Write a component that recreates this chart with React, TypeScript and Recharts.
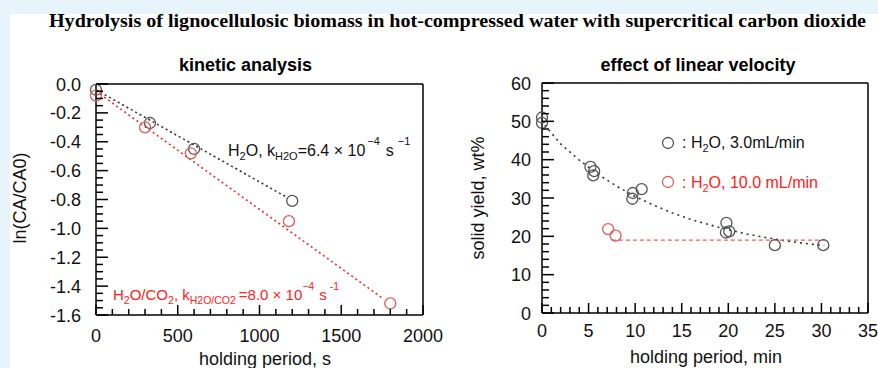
import React from "react";
import { Scatter, ScatterChart, XAxis, YAxis } from "recharts";

const FONT = "'Liberation Sans', Arial, sans-serif";

// kinetic analysis (left)
const kineticMajorX = [0, 500, 1000, 1500, 2000];
const kineticTicksX = [0, 100, 200, 300, 400, 500, 600, 700, 800, 900, 1000, 1100, 1200, 1300, 1400, 1500, 1600, 1700, 1800, 1900, 2000];
const kineticMajorY = [0, -0.2, -0.4, -0.6, -0.8, -1.0, -1.2, -1.4, -1.6];
const kineticTicksY = [
  0, -0.05, -0.1, -0.15, -0.2, -0.25, -0.3, -0.35, -0.4, -0.45, -0.5, -0.55, -0.6, -0.65, -0.7, -0.75, -0.8,
  -0.85, -0.9, -0.95, -1.0, -1.05, -1.1, -1.15, -1.2, -1.25, -1.3, -1.35, -1.4, -1.45, -1.5, -1.55, -1.6,
];

const h2oTime = [0, 330, 600, 1200];
const h2oLn = [-0.04, -0.27, -0.45, -0.81];
const co2Time = [0, 300, 580, 1180, 1800];
const co2Ln = [-0.08, -0.3, -0.48, -0.95, -1.52];
const h2oFitTime = [0, 1160];
const h2oFitLn = [-0.04, -0.78];
const co2FitTime = [0, 1760];
const co2FitLn = [-0.05, -1.49];

// effect of linear velocity (right)
const velMajorX = [0, 5, 10, 15, 20, 25, 30, 35];
const velTicksX = [0, 1, 2, 3, 4, 5, 6, 7, 8, 9, 10, 11, 12, 13, 14, 15, 16, 17, 18, 19, 20, 21, 22, 23, 24, 25, 26, 27, 28, 29, 30, 31, 32, 33, 34, 35];
const velMajorY = [0, 10, 20, 30, 40, 50, 60];
const velTicksY = [0, 2, 4, 6, 8, 10, 12, 14, 16, 18, 20, 22, 24, 26, 28, 30, 32, 34, 36, 38, 40, 42, 44, 46, 48, 50, 52, 54, 56, 58, 60];

const lowFlowTime = [0, 0, 5.2, 5.5, 5.6, 9.7, 9.75, 10.7, 19.8, 19.75, 20.1, 25, 30.2];
const lowFlowYield = [51.0, 49.6, 38.1, 35.9, 37.0, 29.8, 31.3, 32.3, 23.5, 21.0, 21.3, 17.7, 17.7];
const highFlowTime = [7.1, 7.9];
const highFlowYield = [21.9, 20.2];
const lowFitTime = [0.3, 2, 4, 6, 8, 10, 12, 14, 16, 18, 20, 22, 24, 26, 28, 30.3];
const lowFitYield = [49, 44.1, 39.9, 36.2, 33.1, 30.4, 28.1, 26.1, 24.4, 23.0, 21.7, 20.6, 19.7, 18.9, 18.2, 17.6];
const highFitTime = [7.5, 30.4];
const highFitYield = [19.0, 19.0];

const pts = (xs: number[], ys: number[]) => xs.map((x, i) => ({ x, y: ys[i] }));

type Side = "bottom" | "top" | "left" | "right";

function makeTick(side: Side, majors: number[], major: number, minor: number, gap = 0, fmt?: (v: number) => string) {
  return function Tick(props: any) {
    const { x, y, payload } = props;
    const v = Number(payload.value);
    const isMajor = majors.some((m) => Math.abs(m - v) < 1e-9);
    const len = isMajor ? major : minor;
    let x2 = x;
    let y2 = y;
    if (side === "bottom") y2 = y - len;
    if (side === "top") y2 = y + len;
    if (side === "left") x2 = x + len;
    if (side === "right") x2 = x - len;
    const label = fmt && isMajor ? fmt(v) : null;
    return (
      <g>
        <line x1={x} y1={y} x2={x2} y2={y2} stroke="#000" strokeWidth={1.5} />
        {label !== null && side === "bottom" && (
          <text x={x} y={y + gap} textAnchor="middle" fontSize={18} fontFamily={FONT} fill="#111">
            {label}
          </text>
        )}
        {label !== null && side === "left" && (
          <text x={x - gap} y={y + 6.5} textAnchor="end" fontSize={18} fontFamily={FONT} fill="#111">
            {label}
          </text>
        )}
      </g>
    );
  };
}

const ring = (stroke: string) => (p: any) => <circle cx={p.cx} cy={p.cy} r={5.5} fill="none" stroke={stroke} strokeWidth={1.3} />;
const nothing = () => <g />;

const axisLine = { stroke: "#000", strokeWidth: 1.5 };

function KineticChart() {
  return (
    <ScatterChart width={470} height={368} margin={{ top: 0, right: 0, bottom: 0, left: 0 }} style={{ overflow: "visible" }}>
      <XAxis dataKey="x" type="number" domain={[0, 2000]} ticks={kineticTicksX} interval={0} height={53} tickSize={0} tickMargin={0} tickLine={false} axisLine={axisLine} tick={makeTick("bottom", kineticMajorX, 10, 6, 26.5, (v) => String(v))} />
      <XAxis xAxisId="top" orientation="top" type="number" domain={[0, 2000]} ticks={kineticTicksX} interval={0} height={84} tickSize={0} tickMargin={0} tickLine={false} axisLine={axisLine} tick={makeTick("top", kineticMajorX, 10, 6)} />
      <YAxis dataKey="y" type="number" domain={[-1.6, 0]} ticks={kineticTicksY} interval={0} width={96} tickSize={0} tickMargin={0} tickLine={false} axisLine={axisLine} tick={makeTick("left", kineticMajorY, 12, 7, 15, (v) => v.toFixed(1))} />
      <YAxis yAxisId="right" orientation="right" type="number" domain={[-1.6, 0]} ticks={kineticTicksY} interval={0} width={47} tickSize={0} tickMargin={0} tickLine={false} axisLine={axisLine} tick={makeTick("right", kineticMajorY, 12, 7)} />
      <Scatter data={pts(h2oFitTime, h2oFitLn)} shape={nothing} line={{ stroke: "#333", strokeWidth: 1.6, strokeDasharray: "2 3" }} isAnimationActive={false} />
      <Scatter data={pts(co2FitTime, co2FitLn)} shape={nothing} line={{ stroke: "#e53030", strokeWidth: 1.6, strokeDasharray: "2 3" }} isAnimationActive={false} />
      <Scatter data={pts(h2oTime, h2oLn)} shape={ring("#555")} isAnimationActive={false} />
      <Scatter data={pts(co2Time, co2Ln)} shape={ring("#e05a5a")} isAnimationActive={false} />
    </ScatterChart>
  );
}

function VelocityChart() {
  return (
    <ScatterChart width={438} height={368} margin={{ top: 0, right: 0, bottom: 0, left: 0 }}>
      <XAxis dataKey="x" type="number" domain={[0, 35]} ticks={velTicksX} interval={0} height={55} tickSize={0} tickMargin={0} tickLine={false} axisLine={axisLine} tick={makeTick("bottom", velMajorX, 10, 6, 23.5, (v) => String(v))} />
      <XAxis xAxisId="top" orientation="top" type="number" domain={[0, 35]} ticks={velTicksX} interval={0} height={83} tickSize={0} tickMargin={0} tickLine={false} axisLine={axisLine} tick={makeTick("top", velMajorX, 10, 6)} />
      <YAxis dataKey="y" type="number" domain={[0, 60]} ticks={velTicksY} interval={0} width={102} tickSize={0} tickMargin={0} tickLine={false} axisLine={axisLine} tick={makeTick("left", velMajorY, 12, 7, 11, (v) => String(v))} />
      <YAxis yAxisId="right" orientation="right" type="number" domain={[0, 60]} ticks={velTicksY} interval={0} width={10} tickSize={0} tickMargin={0} tickLine={false} axisLine={axisLine} tick={makeTick("right", velMajorY, 12, 7)} />
      <Scatter data={pts(lowFitTime, lowFitYield)} shape={nothing} line={{ stroke: "#333", strokeWidth: 1.6, strokeDasharray: "2 4" }} isAnimationActive={false} />
      <Scatter data={pts(highFitTime, highFitYield)} shape={nothing} line={{ stroke: "#e06060", strokeWidth: 1.3, strokeDasharray: "4 3" }} isAnimationActive={false} />
      <Scatter data={pts(lowFlowTime, lowFlowYield)} shape={ring("#555")} isAnimationActive={false} />
      <Scatter data={pts(highFlowTime, highFlowYield)} shape={ring("#e05a5a")} isAnimationActive={false} />
    </ScatterChart>
  );
}

export default function App() {
  const red = "#ff2020";
  return (
    <div style={{ position: "absolute", left: 0, top: 0, width: 878, height: 368, background: "#e8f4fc", overflow: "hidden" }}>
      <div style={{ position: "absolute", left: 10, top: 14, width: 868, height: 354, background: "#fff" }} />
      <div style={{ position: "absolute", left: 0, top: 0 }}>
        <KineticChart />
      </div>
      <div style={{ position: "absolute", left: 440, top: 0 }}>
        <VelocityChart />
      </div>
      <svg width={878} height={368} style={{ position: "absolute", left: 0, top: 0, pointerEvents: "none" }} fontFamily={FONT}>
        <text x={457.5} y={27} textAnchor="middle" fontFamily="'Liberation Serif', 'Times New Roman', serif" fontWeight="bold" fontSize={18} textLength={817} lengthAdjust="spacingAndGlyphs">
          Hydrolysis of lignocellulosic biomass in hot-compressed water with supercritical carbon dioxide
        </text>
        <text x={245.5} y={71} textAnchor="middle" fontWeight="bold" fontSize={18}>kinetic analysis</text>
        <text x={698} y={71} textAnchor="middle" fontWeight="bold" fontSize={18}>effect of linear velocity</text>
        <text x={265} y={365} textAnchor="middle" fontSize={18} fill="#111">holding period, s</text>
        <text x={706} y={363} textAnchor="middle" fontSize={18} fill="#111">holding period, min</text>
        <text transform="translate(26,198) rotate(-90)" textAnchor="middle" fontSize={18} fill="#111">ln(CA/CA0)</text>
        <text transform="translate(484,198) rotate(-90)" textAnchor="middle" fontSize={18} fill="#111">solid yield, wt%</text>

        <text x={228} y={156} fontSize={16} fill="#111">
          H<tspan fontSize={11} dy={4}>2</tspan>
          <tspan dy={-4}>O, k</tspan>
          <tspan fontSize={11} dy={4}>H2O</tspan>
          <tspan dy={-4}>=6.4 × 10</tspan>
          <tspan fontSize={11} dy={-11} dx={2}>−4</tspan>
          <tspan dy={11} dx={6}>s</tspan>
          <tspan fontSize={11} dy={-11} dx={4}>−1</tspan>
        </text>
        <text x={113} y={300} fontSize={15} fill={red}>
          H<tspan fontSize={10.5} dy={4}>2</tspan>
          <tspan dy={-4}>O/CO</tspan>
          <tspan fontSize={10.5} dy={4}>2</tspan>
          <tspan dy={-4}>, k</tspan>
          <tspan fontSize={10.5} dy={4}>H2O/CO2</tspan>
          <tspan dy={-4} dx={3}>=8.0 × 10</tspan>
          <tspan fontSize={10.5} dy={-10}>−4</tspan>
          <tspan dy={10} dx={5}>s</tspan>
          <tspan fontSize={10.5} dy={-10} dx={3}>-1</tspan>
        </text>

        <circle cx={668} cy={143} r={5.5} fill="none" stroke="#555" strokeWidth={1.3} />
        <text x={682} y={148} fontSize={16} fill="#111">
          : H<tspan fontSize={11} dy={4}>2</tspan>
          <tspan dy={-4}>O, 3.0mL/min</tspan>
        </text>
        <circle cx={668} cy={182} r={5.5} fill="none" stroke="#e06060" strokeWidth={1.3} />
        <text x={682} y={188} fontSize={16} fill={red}>
          : H<tspan fontSize={11} dy={4}>2</tspan>
          <tspan dy={-4}>O, 10.0 mL/min</tspan>
        </text>
      </svg>
    </div>
  );
}
